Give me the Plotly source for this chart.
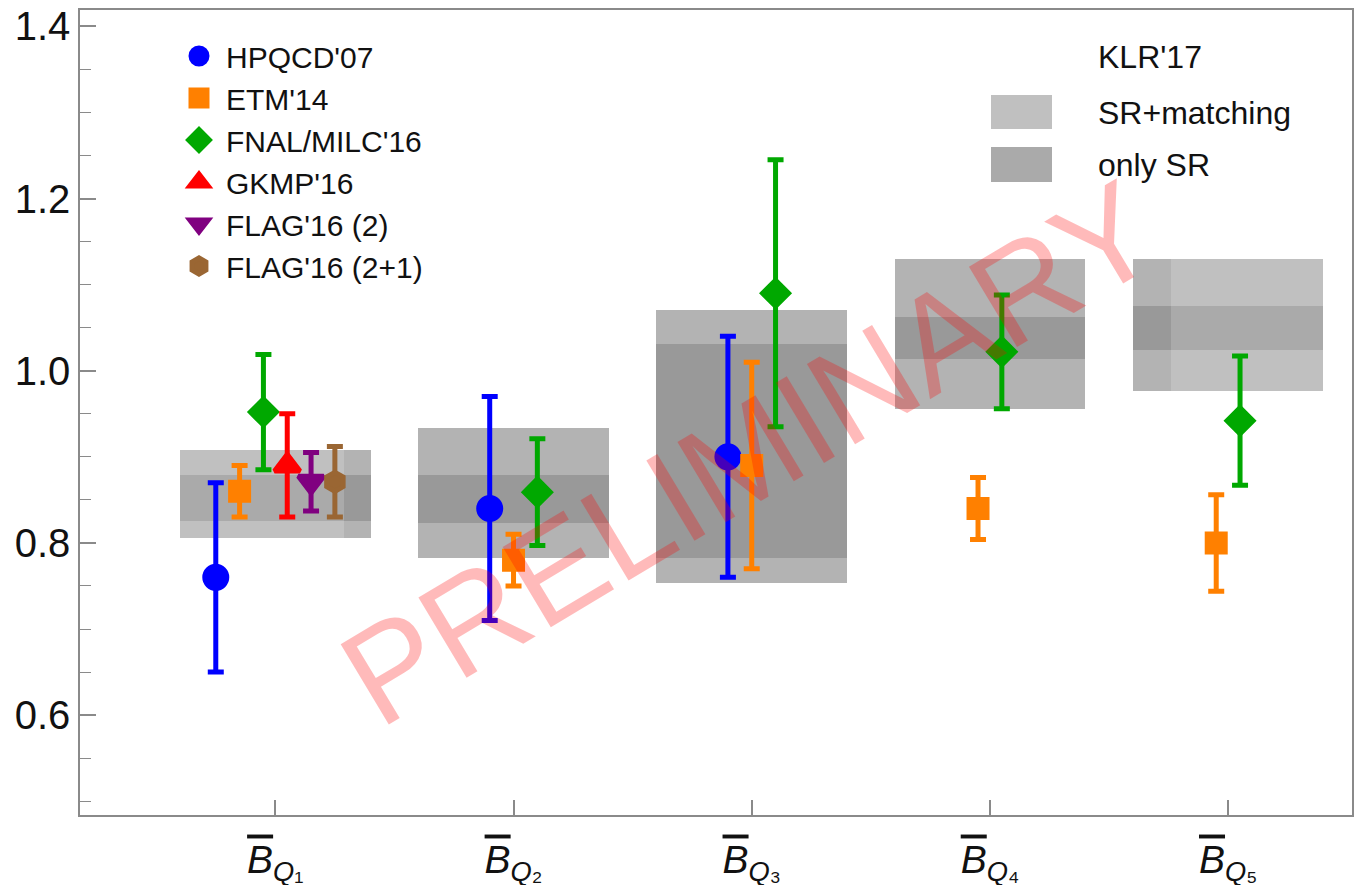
import plotly.graph_objects as go

# ---------------- data ----------------
quantities = [1, 2, 3, 4, 5]
tick_subs = ["\u2081", "\u2082", "\u2083", "\u2084", "\u2085"]

# KLR'17 bands
klr_total_lo = [0.806, 0.782, 0.753, 0.956, 0.977]
klr_total_hi = [0.908, 0.933, 1.071, 1.130, 1.130]
klr_sr_lo = [0.825, 0.823, 0.782, 1.014, 1.024]
klr_sr_hi = [0.879, 0.879, 1.031, 1.063, 1.075]

# lattice / sum-rule results
hpqcd_q = [1, 2, 3]
hpqcd_val = [0.76, 0.84, 0.90]
hpqcd_err = [0.11, 0.13, 0.14]

etm_q = [1, 2, 3, 4, 5]
etm_val = [0.86, 0.78, 0.89, 0.84, 0.80]
etm_err = [0.03, 0.03, 0.12, 0.036, 0.056]

fnal_q = [1, 2, 3, 4, 5]
fnal_val = [0.952, 0.859, 1.09, 1.022, 0.942]
fnal_err = [0.067, 0.062, 0.155, 0.066, 0.075]

gkmp_q = [1]
gkmp_val = [0.89]
gkmp_err = [0.06]

flag2_q = [1]
flag2_val = [0.871]
flag2_err = [0.034]

flag21_q = [1]
flag21_val = [0.871]
flag21_err = [0.041]

series_names = ["HPQCD'07", "ETM'14", "FNAL/MILC'16", "GKMP'16", "FLAG'16 (2)", "FLAG'16 (2+1)"]

# ---------------- styling ----------------
FONT = "Liberation Sans, Arial, Helvetica, sans-serif"
AXIS_GREY = "#8a8a8a"
series = [
    dict(q=hpqcd_q, v=hpqcd_val, e=hpqcd_err, color="#0000ff", symbol="circle", size=22),
    dict(q=etm_q, v=etm_val, e=etm_err, color="#ff8000", symbol="square", size=18),
    dict(q=fnal_q, v=fnal_val, e=fnal_err, color="#00a800", symbol="diamond", size=20),
    dict(q=gkmp_q, v=gkmp_val, e=gkmp_err, color="#ff0000", symbol="triangle-up", size=22),
    dict(q=flag2_q, v=flag2_val, e=flag2_err, color="#800080", symbol="triangle-down", size=22),
    dict(q=flag21_q, v=flag21_val, e=flag21_err, color="#9a6633", symbol="hexagon", size=19),
]

# horizontal offsets: points in each group spread 0.1 apart around the tick
members = {q: [i for i, s in enumerate(series) if q in s["q"]] for q in quantities}
def offset(i, q):
    m = members[q]
    return (m.index(i) - (len(m) - 1) / 2) * 0.1

fig = go.Figure()

# KLR'17 boxes (two shades: where the band was drawn twice it looks darker)
HALF = 0.4
double_part = {1: (0.29, 0.4), 2: (-0.4, 0.4), 3: (-0.4, 0.4), 4: (-0.4, 0.4), 5: (-0.4, -0.24)}
shade = {"single": ("#c0c0c0", "#aaaaaa"), "double": ("#b3b3b3", "#999999")}

segs = []
for k, q in enumerate(quantities):
    d0, d1 = double_part[q]
    pieces = []
    if d0 > -HALF:
        pieces.append((-HALF, d0, "single"))
    pieces.append((d0, d1, "double"))
    if d1 < HALF:
        pieces.append((d1, HALF, "single"))
    for a, b, kind in pieces:
        segs.append((k, q + (a + b) / 2, b - a, kind))

for band in (0, 1):
    lo = klr_total_lo if band == 0 else klr_sr_lo
    hi = klr_total_hi if band == 0 else klr_sr_hi
    fig.add_trace(go.Bar(
        x=[s[1] for s in segs],
        width=[s[2] for s in segs],
        base=[lo[s[0]] for s in segs],
        y=[hi[s[0]] - lo[s[0]] for s in segs],
        marker=dict(color=[shade[s[3]][band] for s in segs], line=dict(width=0)),
        showlegend=False, hoverinfo="skip",
    ))

for i, s in enumerate(series):
    fig.add_trace(go.Scatter(
        x=[q + offset(i, q) for q in s["q"]],
        y=s["v"],
        mode="markers",
        name=series_names[i],
        marker=dict(symbol=s["symbol"], size=s["size"], color=s["color"],
                    line=dict(color=s["color"], width=5)),
        error_y=dict(type="data", array=s["e"], color=s["color"], thickness=5, width=8),
        legend="legend",
    ))

ticktext = [f"<span style='text-decoration:overline'><i>B</i></span><sub><i>Q</i>{t}</sub>"
            for t in tick_subs]

# page body has an 8px margin: figure is placed at (8, 8) in the window
OFF = 8
W, H = 1355, 877
ML, MR, MT, MB = 80 - OFF, 11, 10 - OFF, 70
PW = W - ML - MR
PH = H - MT - MB

def px2x(px):
    return (px - OFF - ML) / PW
def px2y(py):
    return 1 - (py - OFF - MT) / PH

shapes = [
    dict(type="rect", xref="paper", yref="paper", x0=px2x(991), x1=px2x(1052),
         y0=px2y(129), y1=px2y(95), fillcolor="#c0c0c0", line=dict(width=0), layer="above"),
    dict(type="rect", xref="paper", yref="paper", x0=px2x(991), x1=px2x(1052),
         y0=px2y(182), y1=px2y(147), fillcolor="#aaaaaa", line=dict(width=0), layer="above"),
]
annotations = [
    dict(text="KLR'17", xref="paper", yref="paper", x=px2x(1096), y=px2y(57),
         xanchor="left", yanchor="middle", showarrow=False, font=dict(size=32, color="#111", family=FONT)),
    dict(text="SR+matching", xref="paper", yref="paper", x=px2x(1096), y=px2y(113),
         xanchor="left", yanchor="middle", showarrow=False, font=dict(size=32, color="#111", family=FONT)),
    dict(text="only SR", xref="paper", yref="paper", x=px2x(1096), y=px2y(165),
         xanchor="left", yanchor="middle", showarrow=False, font=dict(size=32, color="#111", family=FONT)),
    dict(text="PRELIMINARY", xref="x", yref="y", x=2.99, y=0.905, showarrow=False,
         textangle=-31, font=dict(size=136, color="rgba(255,0,0,0.27)", family=FONT)),
]

fig.update_layout(
    width=W, height=H,
    margin=dict(l=ML, r=MR, t=MT, b=MB),
    paper_bgcolor="white", plot_bgcolor="white",
    barmode="overlay", bargap=0,
    font=dict(family=FONT, color="#111"),
    showlegend=True,
    legend=dict(x=px2x(172), y=px2y(30), xanchor="left", yanchor="top",
                bgcolor="rgba(0,0,0,0)", font=dict(size=30, family=FONT, color="#111"),
                itemsizing="trace", itemwidth=44, tracegroupgap=0),
    shapes=shapes,
    annotations=annotations,
    xaxis=dict(range=[0.18, 5.52], tickmode="array", tickvals=quantities, ticktext=ticktext,
               ticks="inside", ticklen=15, tickwidth=1.5, tickcolor=AXIS_GREY,
               showline=True, linecolor=AXIS_GREY, linewidth=1.5, mirror=True,
               showgrid=False, zeroline=False, tickfont=dict(size=39, family=FONT, color="#111"),
               ticklabelstandoff=9, ticklabeloverflow="allow", automargin=False),
    yaxis=dict(range=[0.484, 1.419], tick0=0, dtick=0.2, tickformat=".1f",
               ticks="inside", ticklen=16, tickwidth=1.5, tickcolor=AXIS_GREY,
               minor=dict(dtick=0.05, ticks="inside", ticklen=11, tickwidth=1.2, tickcolor=AXIS_GREY),
               showline=True, linecolor=AXIS_GREY, linewidth=1.5, mirror=True,
               showgrid=False, zeroline=False, tickfont=dict(size=40, family=FONT, color="#111"),
               ticklabeloverflow="allow", automargin=False),
)

fig.write_html("out.html")
